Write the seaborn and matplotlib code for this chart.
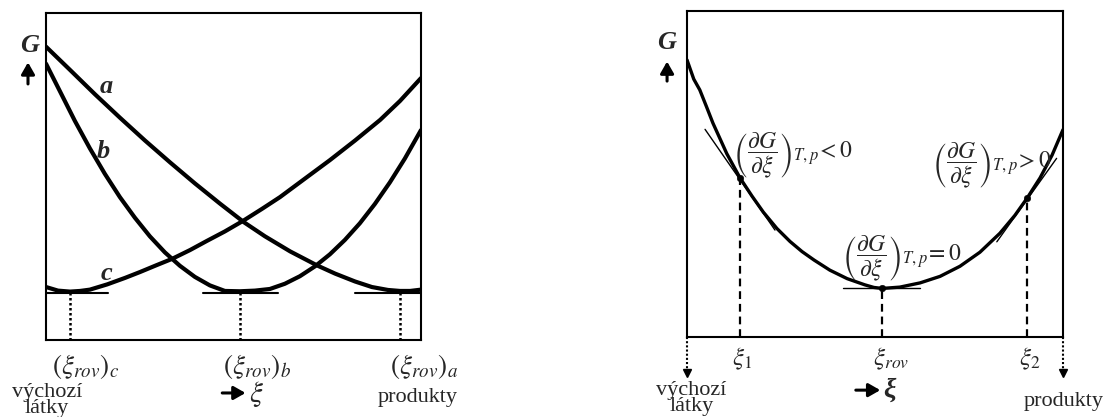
import matplotlib
matplotlib.use("Agg")
import matplotlib.pyplot as plt
import seaborn as sns

# ---- data (x: 0..100 across the box, G: 0..100 up the box) ----
# left panel: three curves a, b, c
xi_a = [0, 6.4, 13.1, 19.7, 26.4, 33.1, 39.7, 46.4, 52.8, 58.4, 65.1, 72.3, 77.1, 82.4,
        86.9, 91.2, 94.4, 97.1, 100]
G_a = [89.7, 82.6, 75.1, 68.0, 61.0, 54.3, 47.9, 41.7, 36.0, 31.7, 27.1, 22.8, 20.3, 17.9,
       16.2, 15.3, 15.0, 15.0, 15.4]

xi_b = [0, 3.7, 7.7, 11.7, 15.7, 19.7, 23.7, 27.7, 31.7, 35.7, 39.7, 43.7, 47.7, 51.7,
        55.7, 59.7, 63.7, 67.7, 71.7, 75.7, 79.7, 83.7, 87.7, 91.7, 95.7, 100]
G_b = [84.5, 76.1, 67.0, 58.6, 50.8, 43.7, 37.4, 31.7, 26.8, 22.7, 19.3, 16.7, 15.0, 14.9,
       15.1, 15.6, 17.2, 19.5, 22.5, 26.2, 30.6, 35.7, 41.6, 48.2, 55.5, 64.2]

xi_c = [0, 3.2, 6.4, 9.1, 11.7, 16.3, 21.1, 25.1, 29.3, 33.6, 38.4, 42.9, 47.7, 52.5,
        57.6, 62.4, 69.1, 75.7, 82.4, 89.1, 94.4, 100]
G_c = [16.2, 15.1, 14.8, 15.0, 15.4, 17.0, 19.0, 20.8, 22.8, 24.8, 27.5, 30.3, 33.2, 36.4,
       40.1, 43.7, 49.4, 55.0, 61.0, 67.3, 73.1, 80.1]

curve_labels = ["a", "b", "c"]
label_xy = [(16.2, 77.5), (15.3, 57.6), (16.2, 20.3)]

xi_eq_left = [6.4, 51.7, 94.4]          # minima of c, b, a
G_eq_left = 14.3
tangent_left = [(0, 16.5), (41.9, 61.9), (82.4, 100)]
eq_labels_left = [r"$(\xi_{rov})_c$", r"$(\xi_{rov})_b$", r"$(\xi_{rov})_a$"]
eq_label_x_left = [1.6, 47.2, 91.7]

# right panel: one curve with three tangents
xi_r = [0, 1.8, 3.4, 5.2, 6.9, 10.6, 14.1, 17.3, 20.3, 23.9, 27.4, 30.6, 33.8, 38.0, 42.6,
        47.3, 49.7, 51.9, 56.6, 62.0, 67.3, 72.6, 77.9, 83.2, 87.2, 90.4, 93.9, 97.1, 100]
G_r = [85.0, 79.1, 75.8, 70.6, 65.6, 56.2, 48.8, 43.2, 38.3, 33.3, 29.3, 26.2, 23.6, 20.5, 17.9,
       16.0, 15.2, 14.9, 15.3, 16.6, 18.6, 21.7, 26.0, 31.8, 37.3, 42.5, 48.8, 55.8, 63.6]

xi_pts = [14.1, 51.9, 90.4]
G_pts = [48.8, 14.9, 42.5]
pt_labels = [r"$\xi_1$", r"$\xi_{rov}$", r"$\xi_2$"]
pt_label_x = [14.6, 54.3, 91.2]

tan_x = [[4.8, 23.4], [41.6, 61.9], [82.4, 98.3]]
tan_y = [[63.7, 32.8], [14.9, 14.9], [29.2, 54.8]]

deriv_texts = [
    r"$\left(\dfrac{\partial G}{\partial \xi}\right)_{T,p}\!<0$",
    r"$\left(\dfrac{\partial G}{\partial \xi}\right)_{T,p}\!=0$",
    r"$\left(\dfrac{\partial G}{\partial \xi}\right)_{T,p}\!>0$",
]
deriv_xy = [(12.2, 55.8), (41.2, 24.2), (65.2, 52.8)]

start_text = "výchozí\nlátky"
end_text = "produkty"

sns.set_style("white")
plt.rcParams["font.family"] = ["Liberation Serif", "DejaVu Serif"]
plt.rcParams["mathtext.fontset"] = "stix"

fig = plt.figure(figsize=(11.11, 4.17), dpi=100)
ax1 = fig.add_axes([46 / 1111, 77 / 417, 375 / 1111, 327 / 417])
ax2 = fig.add_axes([687 / 1111, 80 / 417, 376 / 1111, 326 / 417])

for ax in (ax1, ax2):
    ax.set_xlim(0, 100)
    ax.set_ylim(0, 100)
    ax.set_xticks([])
    ax.set_yticks([])
    for s in ax.spines.values():
        s.set_visible(True)
        s.set_color("black")
        s.set_linewidth(1.5)

arrow_style = dict(arrowstyle="-|>,head_width=0.4,head_length=0.7", color="black", lw=2.2,
                   shrinkA=0, shrinkB=0)

# ===================== left panel =====================
for xs, gs in [(xi_a, G_a), (xi_b, G_b), (xi_c, G_c)]:
    sns.lineplot(x=xs, y=gs, ax=ax1, color="black", lw=3, sort=False, estimator=None)

for (x0, x1) in tangent_left:
    ax1.plot([x0, x1], [G_eq_left, G_eq_left], color="black", lw=1.5)
for xe in xi_eq_left:
    ax1.plot([xe, xe], [0, G_eq_left], color="black", lw=1.8, ls=(0, (1, 1)))

for lab, (lx, ly) in zip(curve_labels, label_xy):
    ax1.text(lx, ly, lab, fontsize=19, fontstyle="italic", fontweight="bold",
             ha="center", va="center")

for lab, lx in zip(eq_labels_left, eq_label_x_left):
    ax1.text(lx, -8.0, lab, fontsize=19.5, ha="left", va="center", clip_on=False)

ax1.text(0.3, -18.6, start_text, fontsize=16, ha="center", va="center",
         multialignment="center", linespacing=0.78, clip_on=False)
ax1.text(88.5, -17.7, end_text, fontsize=16, ha="left", va="center", clip_on=False)
ax1.annotate("", xy=(53.2, -16.2), xytext=(47.0, -16.2), annotation_clip=False,
             arrowprops=arrow_style)
ax1.text(54.2, -16.4, r"$\xi$", fontsize=21, ha="left", va="center", clip_on=False)

ax1.text(-4.3, 90.2, "G", fontsize=19, fontstyle="italic", fontweight="bold",
         ha="center", va="center", clip_on=False)
ax1.annotate("", xy=(-4.8, 84.9), xytext=(-4.8, 78.3), annotation_clip=False,
             arrowprops=arrow_style)

# ===================== right panel =====================
sns.lineplot(x=xi_r, y=G_r, ax=ax2, color="black", lw=2.4, sort=False, estimator=None)
for tx, ty in zip(tan_x, tan_y):
    ax2.plot(tx, ty, color="black", lw=1.0)
for xp, gp in zip(xi_pts, G_pts):
    ax2.plot([xp, xp], [0, gp], color="black", lw=1.6, ls=(0, (3.5, 2.2)))
sns.scatterplot(x=xi_pts, y=G_pts, ax=ax2, color="black", s=22, edgecolor="black", zorder=5)

for txt, (dx, dy) in zip(deriv_texts, deriv_xy):
    ax2.text(dx, dy, txt, fontsize=17, ha="left", va="center")

for lab, lx in zip(pt_labels, pt_label_x):
    ax2.text(lx, -6.6, lab, fontsize=18, ha="center", va="center", clip_on=False)

for xe in (0, 100):
    ax2.plot([xe, xe], [0, -10.0], color="black", lw=1.5, ls=(0, (1, 1)), clip_on=False)
    ax2.plot([xe], [-11.0], marker="v", color="black", ms=6, clip_on=False)

ax2.text(1.2, -18.8, start_text, fontsize=16, ha="center", va="center",
         multialignment="center", linespacing=0.78, clip_on=False)
ax2.text(100.1, -19.9, end_text, fontsize=16, ha="center", va="center", clip_on=False)
ax2.annotate("", xy=(51.4, -16.3), xytext=(44.9, -16.3), annotation_clip=False,
             arrowprops=arrow_style)
ax2.text(52.3, -16.3, "ξ", fontsize=20, fontstyle="italic", fontweight="bold",
         ha="left", va="center", clip_on=False)

ax2.text(-5.3, 90.2, "G", fontsize=19, fontstyle="italic", fontweight="bold",
         ha="center", va="center", clip_on=False)
ax2.annotate("", xy=(-5.3, 84.5), xytext=(-5.3, 78.5), annotation_clip=False,
             arrowprops=arrow_style)

fig.savefig("out.png", dpi=100)
